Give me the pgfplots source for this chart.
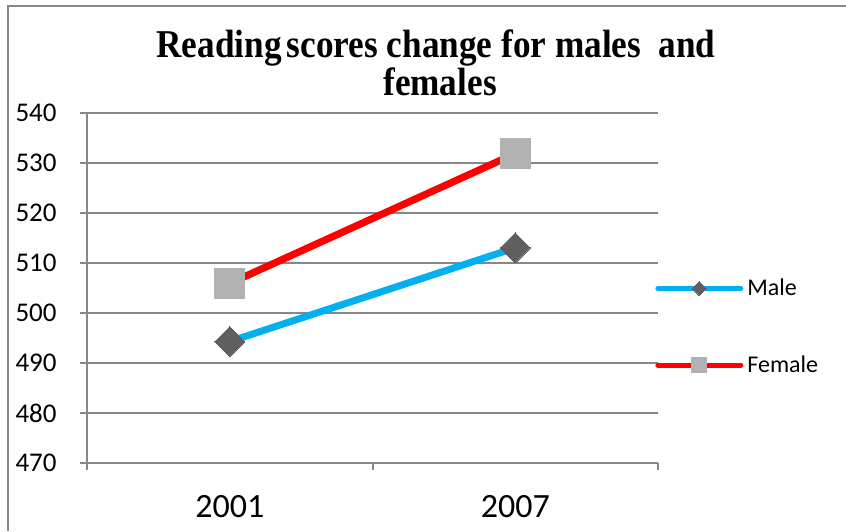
\documentclass[border=0pt]{standalone}
\usepackage{pgfplots}
\pgfplotsset{compat=1.18}
\usepackage{fontspec}
\setmainfont{Carlito}
\newfontfamily\titlefont{Liberation Serif}
\definecolor{gridgray}{HTML}{878787}
\definecolor{maleblue}{HTML}{00B0F0}
\definecolor{femred}{HTML}{FF0000}
\definecolor{diamgray}{HTML}{5F5F5F}
\definecolor{sqgray}{HTML}{B2B2B2}
\pgfplotsset{
  maleleg/.style={legend image code/.code={\draw[##1, line width=2.5pt, mark size=2.5pt, mark repeat=2, mark phase=2] plot coordinates {(0pt,0pt)(20.75pt,0pt)(41.5pt,0pt)};}},
  femleg/.style={legend image code/.code={\draw[##1, line width=2.5pt, mark size=3.75pt, mark repeat=2, mark phase=2] plot coordinates {(0pt,0pt)(20.75pt,0pt)(41.5pt,0pt)};}},
}
\begin{document}
\begin{tikzpicture}
\useasboundingbox (0,0) rectangle (423pt,265.5pt);
\draw[gridgray, line width=1pt] (4pt,0) -- (4pt,262.5pt) -- (423pt,262.5pt);
\node[font=\titlefont\bfseries\fontsize{17.6}{17.6}\selectfont, anchor=base, inner sep=0pt] at (218pt,236.85pt) {\scalebox{1}[1.12]{Reading\hspace{0.15em}scores change for males\hspace{0.5em}and}};
\node[font=\titlefont\bfseries\fontsize{17.6}{17.6}\selectfont, anchor=base, inner sep=0pt] at (220pt,217.5pt) {\scalebox{1}[1.12]{females}};
\begin{axis}[
  at={(43.5pt,33.85pt)}, anchor=south west,
  scale only axis, width=285.5pt, height=175.4pt,
  xmin=0, xmax=2, ymin=470, ymax=540,
  ytick={470,480,...,540},
  xtick={0,1,2},
  xticklabels={2001,2007,},
  x tick label as interval,
  /pgf/number format/assume math mode=true,
  axis x line*=bottom, axis y line*=left,
  axis line style={draw=gridgray, line width=1pt, -},
  tick style={draw=gridgray, line width=1pt},
  major tick length=3.5pt, tick align=outside,
  ymajorgrids, grid style={draw=gridgray, line width=1pt},
  yticklabel style={font=\fontsize{13.5}{13.5}\selectfont, anchor=east, inner sep=0pt, xshift=-11.5pt},
  xticklabel style={font=\fontsize{17}{17}\selectfont, anchor=north, inner sep=0pt, yshift=-12.5pt},
  clip=false,
  legend style={at={(0.9947,0.389)}, anchor=west, draw=none, fill=none, inner sep=0pt,
    row sep=28.5pt, column sep=2pt,
    nodes={inner sep=0pt, text=black, font=\fontsize{12}{12}\selectfont}},
  legend cell align=left,
]
\addplot[maleblue, line width=3.5pt, line cap=round, mark=square*, mark size=5.3pt,
  mark options={rotate=45, fill=diamgray, draw=diamgray, line width=0pt}, maleleg]
  coordinates {(0.5,494.3) (1.5,513.0)};
\addlegendentry{Male}
\addplot[femred, line width=3.6pt, line cap=round, mark=square*, mark size=7.5pt,
  mark options={fill=sqgray, draw=sqgray, line width=0pt}, femleg]
  coordinates {(0.5,505.9) (1.5,531.8)};
\addlegendentry{Female}
\end{axis}
\end{tikzpicture}
\end{document}
